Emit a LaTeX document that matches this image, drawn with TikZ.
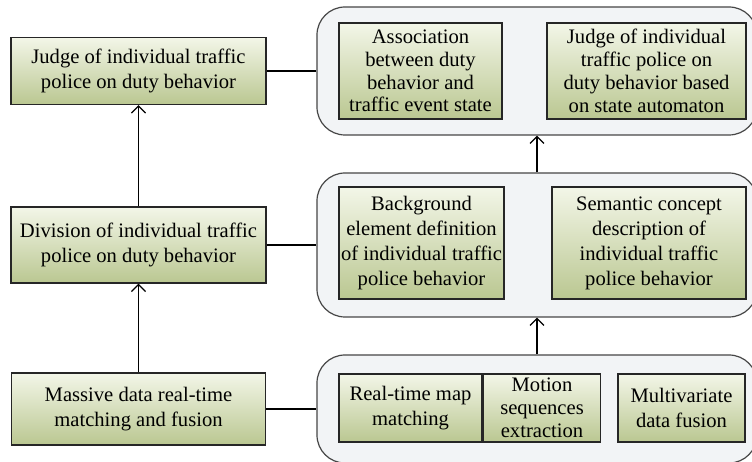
\documentclass[tikz,border=0pt]{standalone}
\usepackage{fontspec}
\setmainfont{Liberation Serif}
\usepackage{tikz}
\usetikzlibrary{positioning,arrows.meta}
\definecolor{boxtop}{RGB}{243,246,232}
\definecolor{boxbot}{RGB}{186,199,145}
\definecolor{grpfill}{RGB}{242,244,246}
\definecolor{grpline}{RGB}{70,70,70}

\begin{document}
\begin{tikzpicture}[x=0.5bp,y=-0.5bp,
    stage/.style={draw=black!85,line width=0.75bp,top color=boxtop,bottom color=boxbot,
      align=center,inner sep=0pt,font=\fontsize{10.3bp}{12.5bp}\selectfont},
    tight/.style={font=\fontsize{10.3bp}{11.4bp}\selectfont},
    group/.style={draw=grpline,line width=0.6bp,fill=grpfill,rounded corners=14bp,inner sep=0pt},
    link/.style={line width=0.65bp},
    tip/.style={-{Straight Barb[length=3.5bp,width=7bp,line width=0.6bp]}}]
  \useasboundingbox (0,0) rectangle (752,462);

  % rounded groups on the right
  \node[group,minimum width=220bp,minimum height=64bp] (grpA) at (537,71) {};
  \node[group,minimum width=220bp,minimum height=72bp] (grpB) at (537,245) {};
  \node[group,minimum width=220bp,minimum height=54bp] (grpC) at (537,409) {};

  % left column
  \node[stage,minimum width=127.5bp,minimum height=33.5bp] (judge) at (138.5,71)
    {Judge of individual traffic\\police on duty behavior};
  \node[stage,minimum width=127.5bp,minimum height=38bp] (division) at (138.5,245)
    {Division of individual traffic\\police on duty behavior};
  \node[stage,minimum width=127bp,minimum height=36bp] (massive) at (138.5,409)
    {Massive data real-time\\matching and fusion};

  % boxes inside the groups
  \node[stage,tight,minimum width=81.5bp,minimum height=48bp] (assoc) at (420.5,71)
    {Association\\between duty\\behavior and\\traffic event state};
  \node[stage,tight,minimum width=99.5bp,minimum height=48bp] (automaton) at (646.5,71)
    {Judge of individual\\traffic police on\\duty behavior based\\on state automaton};
  \node[stage,minimum width=82.5bp,minimum height=56bp] (background) at (421.5,243)
    {Background\\element definition\\of individual traffic\\police behavior};
  \node[stage,minimum width=97bp,minimum height=56bp] (semantic) at (649,243)
    {Semantic concept\\description of\\individual traffic\\police behavior};
  \node[stage,minimum width=71.5bp,minimum height=34bp] (mapmatch) at (410.5,408)
    {Real-time map\\matching};
  \node[stage,tight,minimum width=58.5bp,minimum height=34bp,right=0pt of mapmatch] (motion)
    {Motion\\sequences\\extraction};
  \node[stage,minimum width=63.5bp,minimum height=34bp] (fusion) at (681.5,408)
    {Multivariate\\data fusion};

  % connectors
  \foreach \from/\to in {judge/grpA, division/grpB, massive/grpC}
    \path[draw,link] (\from.east) -- (\to.west);
  \foreach \from/\to in {massive/division, division/judge, grpC/grpB, grpB/grpA}
    \path[draw,link,tip] (\from.north) -- (\to.south);
\end{tikzpicture}
\end{document}
